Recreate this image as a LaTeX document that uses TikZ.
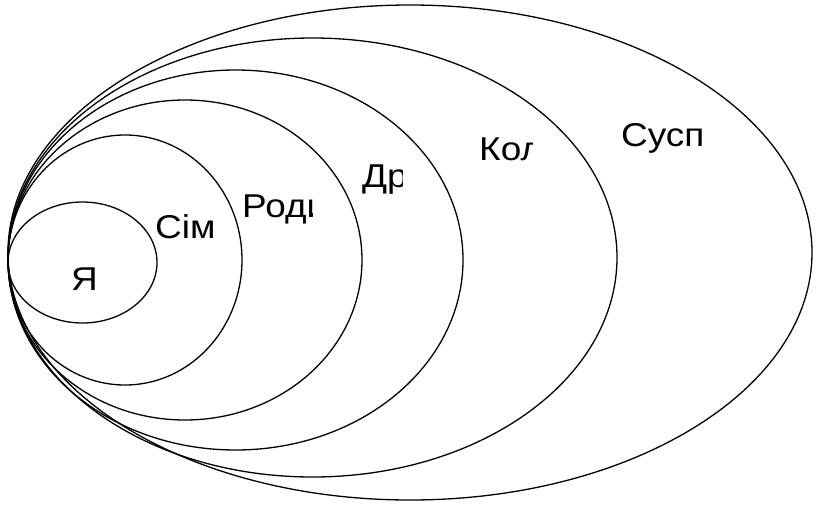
\documentclass[tikz,border=0pt]{standalone}
\usepackage{fontspec}
\setmainfont{Liberation Sans}
\newcommand{\widetxt}[1]{\scalebox{1.12}[1]{#1}}
\begin{document}
\begin{tikzpicture}[x=1pt,y=-1pt,
  ring/.style={draw=black,line width=1.3pt},
  lbl/.style={anchor=base west,inner sep=0pt,font=\fontsize{33}{40}\selectfont}]
\useasboundingbox (0,0) rectangle (820,507);
\path[ring] (410,252.5) ellipse [x radius=402pt,y radius=247.5pt];
\path[ring] (312.5,257.5) ellipse [x radius=304.5pt,y radius=219.5pt];
\path[ring] (235.5,260) ellipse [x radius=227.5pt,y radius=190pt];
\path[ring] (185,260) ellipse [x radius=177pt,y radius=160pt];
\path[ring] (125,260) ellipse [x radius=117pt,y radius=125pt];
\path[ring] (82.5,262.5) ellipse [x radius=74.5pt,y radius=60.5pt];
\node[lbl] (ya) at (71,290) {\widetxt{Я}};
\node[lbl] (sim) at (155,238) {\widetxt{Сім}};
\begin{scope}
\clip (230,180) rectangle (312,230);
\node[lbl] (rod) at (242,217) {\widetxt{Роди}};
\end{scope}
\begin{scope}
\clip (350,150) rectangle (402,200);
\node[lbl] (dr) at (362,187) {\widetxt{Др}};
\end{scope}
\begin{scope}
\clip (470,120) rectangle (532,175);
\node[lbl] (kol) at (479,160) {\widetxt{Кол}};
\end{scope}
\node[lbl] (susp) at (621,146) {\widetxt{Сусп}};
\end{tikzpicture}
\end{document}
